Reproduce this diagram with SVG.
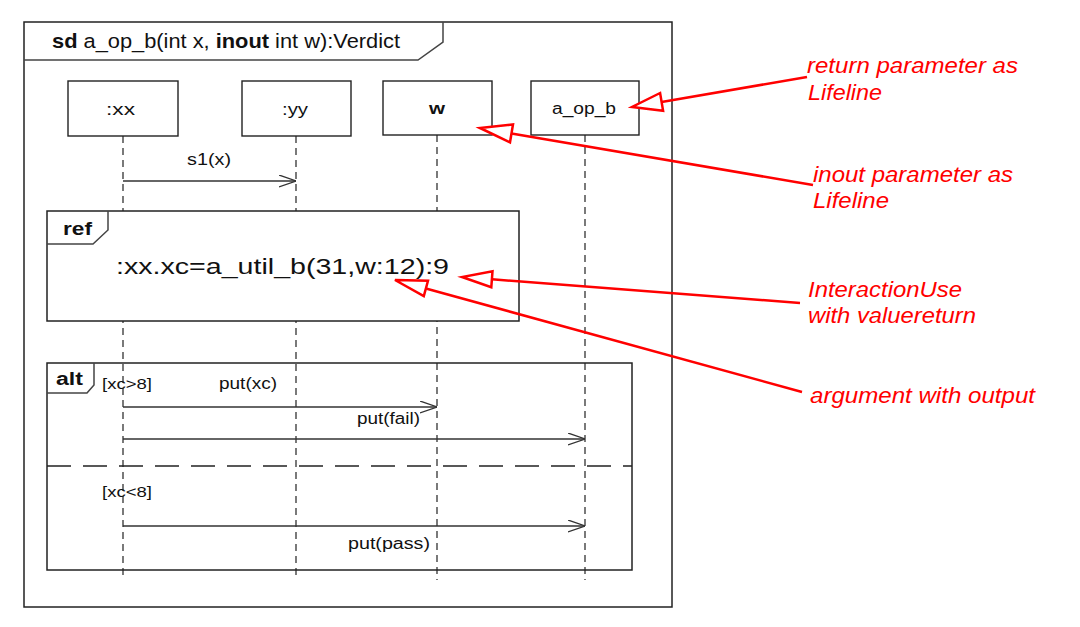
<svg xmlns="http://www.w3.org/2000/svg" width="1080" height="627" viewBox="0 0 1080 627">
<style>
text{font-family:"Liberation Sans",Arial,sans-serif;fill:#111}
.frame{fill:#fff;stroke:#222;stroke-width:1.5}
.tab{fill:none;stroke:#444;stroke-width:1.5}
.box{fill:#fff;stroke:#222;stroke-width:1.4}
.life{stroke:#333;stroke-width:1.3;stroke-dasharray:7,5;fill:none}
.msg{stroke:#333;stroke-width:1.3;fill:none}
.lbl{font-size:16px}
.note{font-size:22px;font-style:italic;fill:#ff0000}
.nl{stroke:#ff0000;stroke-width:2.5;fill:none}
.nh{stroke:#ff0000;stroke-width:2.5;fill:#fff;stroke-linejoin:miter}
</style>
<defs>
<marker id="open" viewBox="0 0 17 13" refX="17" refY="6.5" markerWidth="17" markerHeight="13" markerUnits="userSpaceOnUse" orient="auto">
<path d="M0,0.5 L17,6.5 L0,12.5" fill="none" stroke="#333" stroke-width="1.3"/>
</marker>
</defs>
<rect width="1080" height="627" fill="#fff"/>

<g id="frame-sd">
<rect class="frame" x="24" y="22" width="648" height="585"/>
<path class="tab" d="M24,60 H418 L443,42 V22"/>
<text x="52" y="48" font-size="20.5" textLength="348" lengthAdjust="spacingAndGlyphs"><tspan font-weight="bold">sd</tspan> a_op_b(int x, <tspan font-weight="bold">inout</tspan> int w):Verdict</text>
</g>

<g id="lifelines">
<line class="life" x1="123" y1="136" x2="123" y2="580"/>
<line class="life" x1="296" y1="136" x2="296" y2="580"/>
<line class="life" x1="437" y1="135" x2="437" y2="580"/>
<line class="life" x1="585" y1="135" x2="585" y2="580"/>
</g>

<g id="ll-xx">
<rect class="box" x="68" y="81" width="110" height="55"/>
<text x="106" y="115" font-size="16" textLength="29" lengthAdjust="spacingAndGlyphs">:xx</text>
</g>
<g id="ll-yy">
<rect class="box" x="242" y="81" width="109" height="55"/>
<text x="282" y="115" font-size="16" textLength="26" lengthAdjust="spacingAndGlyphs">:yy</text>
</g>
<g id="ll-w">
<rect class="box" x="383" y="81" width="109" height="54"/>
<text x="429" y="114" font-size="16" font-weight="bold" textLength="16" lengthAdjust="spacingAndGlyphs">w</text>
</g>
<g id="ll-a_op_b">
<rect class="box" x="531" y="81" width="108" height="54"/>
<text x="552" y="114" font-size="16" textLength="64" lengthAdjust="spacingAndGlyphs">a_op_b</text>
</g>

<g id="ref-frame">
<rect class="frame" x="47" y="211" width="472" height="110"/>
<path class="tab" d="M47,244 H93 L108,230 V211"/>
<text x="63" y="235" font-size="18" font-weight="bold" textLength="29" lengthAdjust="spacingAndGlyphs">ref</text>
<text x="116" y="274" font-size="22.5" textLength="333" lengthAdjust="spacingAndGlyphs">:xx.xc=a_util_b(31,w:12):9</text>
</g>

<g id="alt-frame">
<rect x="47" y="363" width="585" height="207" fill="none" stroke="#222" stroke-width="1.5"/>
<path class="tab" d="M47,393 H87 L94,385 V363"/>
<text x="56" y="385" font-size="18" font-weight="bold" textLength="27" lengthAdjust="spacingAndGlyphs">alt</text>
<line x1="47" y1="466" x2="632" y2="466" stroke="#222" stroke-width="1.5" stroke-dasharray="24,12"/>
<text x="102" y="389" font-size="15" textLength="50" lengthAdjust="spacingAndGlyphs">[xc&gt;8]</text>
<text x="102" y="497" font-size="15" textLength="50" lengthAdjust="spacingAndGlyphs">[xc&lt;8]</text>
</g>

<g id="connectors">
<line class="msg" x1="123" y1="181" x2="296" y2="181" marker-end="url(#open)"/>
<text class="lbl" x="187" y="165" textLength="44" lengthAdjust="spacingAndGlyphs">s1(x)</text>
<line class="msg" x1="123" y1="407" x2="437" y2="407" marker-end="url(#open)"/>
<text class="lbl" x="219" y="389" textLength="58" lengthAdjust="spacingAndGlyphs">put(xc)</text>
<line class="msg" x1="123" y1="439" x2="585" y2="439" marker-end="url(#open)"/>
<text class="lbl" x="357" y="424" textLength="63" lengthAdjust="spacingAndGlyphs">put(fail)</text>
<line class="msg" x1="123" y1="526" x2="585" y2="526" marker-end="url(#open)"/>
<text class="lbl" x="348" y="549" textLength="82" lengthAdjust="spacingAndGlyphs">put(pass)</text>
</g>

<g id="notes">
<g id="note-return">
<line class="nl" x1="661.6" y1="101.9" x2="807" y2="77"/>
<polygon class="nh" points="632,107 663.1,110.8 660.1,93"/>
<text class="note" x="807" y="73" textLength="211" lengthAdjust="spacingAndGlyphs">return parameter as</text>
<text class="note" x="808" y="100" textLength="74" lengthAdjust="spacingAndGlyphs">Lifeline</text>
</g>
<g id="note-inout">
<line class="nl" x1="511.5" y1="133.4" x2="813" y2="185"/>
<polygon class="nh" points="480,128 510,142.3 513,124.5"/>
<text class="note" x="813" y="182" textLength="200" lengthAdjust="spacingAndGlyphs">inout parameter as</text>
<text class="note" x="813" y="208" textLength="76" lengthAdjust="spacingAndGlyphs">Lifeline</text>
</g>
<g id="note-interactionuse">
<line class="nl" x1="491.9" y1="279.3" x2="800" y2="303"/>
<polygon class="nh" points="462,277 491.3,287.3 492.5,271.3"/>
<text class="note" x="808" y="297" textLength="154" lengthAdjust="spacingAndGlyphs">InteractionUse</text>
<text class="note" x="808" y="323" textLength="168" lengthAdjust="spacingAndGlyphs">with valuereturn</text>
</g>
<g id="note-argument">
<line class="nl" x1="425.9" y1="288.5" x2="802" y2="392"/>
<polygon class="nh" points="395,280 423.8,296.2 428,280.8"/>
<text class="note" x="810" y="403" textLength="225" lengthAdjust="spacingAndGlyphs">argument with output</text>
</g>
</g>
</svg>
